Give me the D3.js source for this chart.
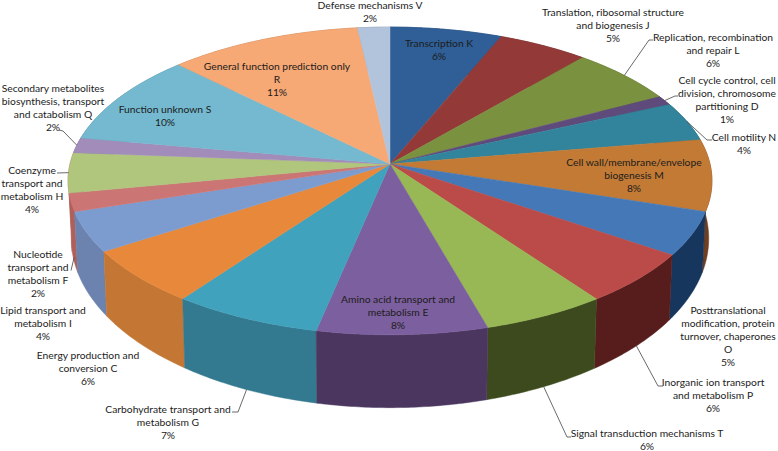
<!DOCTYPE html>
<html>
<head>
<meta charset="utf-8">
<script src="https://cdn.jsdelivr.net/npm/d3@7"></script>
<style>
  html, body { margin: 0; padding: 0; background: #fff; }
  svg { display: block; }
  text { font-family: Lato, "Open Sans", sans-serif; font-size: 10.3px; fill: #1c1c1c; }
</style>
</head>
<body>
<div id="chart"></div>
<script>
// COG categories, clockwise from 12 o'clock
const categories = [
  "Transcription K",
  "Translation, ribosomal structure|and biogenesis J",
  "Replication, recombination|and repair L",
  "Cell cycle control, cell|division, chromosome|partitioning D",
  "Cell motility N",
  "Cell wall/membrane/envelope|biogenesis M",
  "Posttranslational|modification, protein|turnover, chaperones|O",
  "Inorganic ion transport|and metabolism P",
  "Signal transduction mechanisms T",
  "Amino acid transport and|metabolism E",
  "Carbohydrate transport and|metabolism G",
  "Energy production and|conversion C",
  "Lipid transport and|metabolism I",
  "Nucleotide|transport and|metabolism F",
  "Coenzyme|transport and|metabolism H",
  "Secondary metabolites|biosynthesis, transport|and catabolism Q",
  "Function unknown S",
  "General function prediction only|R",
  "Defense mechanisms V",
];

// share of each category in percent
const values = [6.25, 5.05, 6, 1, 4.1, 7.5, 4.6, 5.5, 5.6, 7.7, 6.75, 5.85, 4.2, 1.9, 4.2, 1.6, 9.6, 10.8, 1.8];

const topColors = [
  "#2f5f96", "#933a38", "#7a9140", "#5f4a7c", "#31849b", "#c27a35", "#4578b6", "#bb4b48", "#97b855", "#7c5f9e",
  "#40a2bc", "#e8883a", "#7c9cd0", "#cb7674", "#afc67c", "#a28cba", "#74b9cf", "#f6a875", "#b2c3dc",
];
const sideColors = [
  "#1f3f66", "#642624", "#52652a", "#3f3153", "#215868", "#6e3f20", "#17365d", "#571d1c", "#3d4a1e", "#4b3660",
  "#33798f", "#c47734", "#6b83ae", "#b0605a", "#b0605a", "#6f6082", "#4f8090", "#a8734f", "#7a8595",
];

// label anchor: centre x and first baseline
const labelPos = [
  [439, 47], [613, 16], [713, 41], [727, 84], [744, 141], [634, 166], [728, 314], [713, 386], [647, 437], [398, 303],
  [168, 413], [88, 359], [43, 314], [38, 258], [32, 174], [53, 92], [165, 113], [277, 70], [370, 9],
];

// leader lines: slice index, height on the side wall (0 top rim, 1 bottom rim), bend and end of the line
const leaders = [
  [2, 0, [[649, 40], [653, 40]]],
  [3, 0, [[675, 96], [678, 96]]],
  [4, 0, [[707, 140], [712, 140]]],
  [7, 1, [[658, 386], [663, 386]]],
  [8, 1, [[567, 437], [571, 437]]],
  [10, 1, [[238, 412], [232, 412]]],
  [13, 0.92, [[71, 270.5]]],
  [14, 0, [[57, 173]]],
  [15, 0, [[63, 131], [59, 130]]],
];

const width = 778;
const height = 451;

// perspective disc: far edge is smaller than the near edge
const cx = 390;
const cy = 164;
const radiusX = 320;
const radiusY = 152;
const tilt = 0.11;
// bottom rim has its own centre and vertical radius, so the wall is taller in front
const bottomCy = 220;
const bottomRadiusY = 167;
const bottomScaleX = 0.99;
const lineHeight = 13;

function project(angle, r, t) {
  const w = 1 + tilt * r * Math.cos(angle);
  const u = (r * Math.cos(angle)) / w;
  const topY = cy - radiusY * u;
  const bottomY = bottomCy - bottomRadiusY * u;
  const s = 1 + (bottomScaleX - 1) * t;
  return [cx + (s * radiusX * r * Math.sin(angle)) / w, topY + (bottomY - topY) * t];
}

const slices = d3.pie().sort(null).value((d) => d)(values);

function arcAngles(d) {
  const n = Math.max(2, Math.ceil((d.endAngle - d.startAngle) / 0.01));
  return d3.range(n + 1).map((i) => d.startAngle + ((d.endAngle - d.startAngle) * i) / n);
}

const midAngle = (d) => (d.startAngle + d.endAngle) / 2;

const line = d3.line();

const topPath = (d) => line([project(0, 0, 0), ...arcAngles(d).map((a) => project(a, 1, 0))]) + "Z";
const sidePath = (d) => {
  const angles = arcAngles(d);
  return (
    line([...angles.map((a) => project(a, 1, 0)), ...angles.reverse().map((a) => project(a, 1, 1))]) + "Z"
  );
};

const svg = d3
  .select("#chart")
  .append("svg")
  .attr("width", width)
  .attr("height", height)
  .attr("viewBox", [0, 0, width, height]);

// walls first, back to front, the top face hides whatever is behind it
svg
  .append("g")
  .selectAll("path")
  .data(d3.sort(slices, (d) => -Math.cos(midAngle(d))))
  .join("path")
  .attr("d", sidePath)
  .attr("fill", (d) => sideColors[d.index])
  .attr("stroke", (d) => sideColors[d.index])
  .attr("stroke-width", 0.5);

svg
  .append("g")
  .selectAll("path")
  .data(slices)
  .join("path")
  .attr("d", topPath)
  .attr("fill", (d) => topColors[d.index])
  .attr("stroke", (d) => topColors[d.index])
  .attr("stroke-width", 0.5);

svg
  .append("g")
  .attr("fill", "none")
  .attr("stroke", "#444")
  .attr("stroke-width", 0.8)
  .selectAll("path")
  .data(leaders)
  .join("path")
  .attr("d", ([i, t, points]) => line([project(midAngle(slices[i]), 1, t), ...points]));

const label = svg
  .append("g")
  .attr("text-anchor", "middle")
  .selectAll("text")
  .data(categories)
  .join("text")
  .attr("transform", (_, i) => `translate(${labelPos[i][0]},${labelPos[i][1]})`);

label
  .selectAll("tspan")
  .data((d, i) => [...d.split("|"), Math.round(values[i]) + "%"])
  .join("tspan")
  .attr("x", 0)
  .attr("y", (_, i) => i * lineHeight)
  .text((d) => d);
</script>
</body>
</html>
